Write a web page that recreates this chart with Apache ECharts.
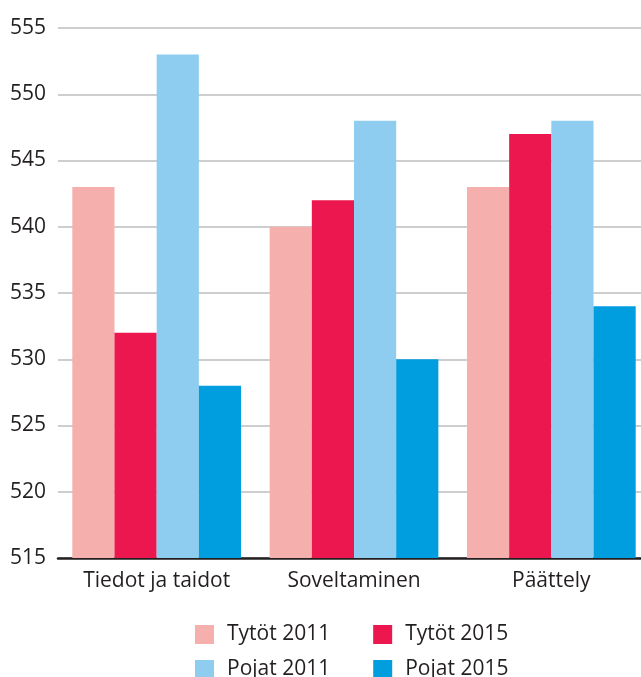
<!DOCTYPE html>
<html>
<head>
<meta charset="utf-8">
<script src="https://cdn.jsdelivr.net/npm/echarts@6/dist/echarts.min.js"></script>
<style>
  html, body { margin: 0; padding: 0; background: #fff; }
  #chart { width: 641px; height: 677px; }
</style>
</head>
<body>
<div id="chart"></div>
<script>
// data
const categories = ["Tiedot ja taidot", "Soveltaminen", "Päättely"]
const tytot2011 = [543, 540, 543]
const tytot2015 = [532, 542, 547]
const pojat2011 = [553, 548, 548]
const pojat2015 = [528, 530, 534]
const yMin = 515
const yMax = 555
const yStep = 5

const font = "'Open Sans', 'Noto Sans', sans-serif"
const textColor = "#231f20"

const chart = echarts.init(document.getElementById("chart"))

const makeBar = (name, data, color) => ({
  name: name,
  type: "bar",
  data: data,
  barGap: "0%",
  barCategoryGap: "14.5%",
  itemStyle: { color: color },
  emphasis: { disabled: true }
})

// one legend per row, the gap puts the second column under x ~374
const makeLegend = (names, top) => ({
  orient: "horizontal",
  left: 195,
  top: top,
  padding: 0,
  itemWidth: 19,
  itemHeight: 19,
  itemGap: 43,
  icon: "rect",
  data: names,
  textStyle: {
    fontSize: 21,
    color: textColor,
    fontFamily: font,
    padding: [0, 0, 0, 8]
  }
})

chart.setOption({
  animation: false,
  textStyle: { fontFamily: font },
  grid: {
    left: 58,
    right: -9,
    top: 28,
    bottom: 119,
    containLabel: false,
    outerBoundsMode: "none"
  },
  legend: [
    makeLegend(["Tytöt 2011", "Tytöt 2015"], 624),
    makeLegend(["Pojat 2011", "Pojat 2015"], 659)
  ],
  xAxis: {
    type: "category",
    data: categories,
    axisTick: { show: false },
    axisLine: { lineStyle: { color: textColor, width: 2.5 } },
    axisLabel: { color: textColor, fontSize: 21, margin: 13, fontFamily: font }
  },
  yAxis: {
    type: "value",
    min: yMin,
    max: yMax,
    interval: yStep,
    axisLine: { show: false },
    axisTick: { show: false },
    axisLabel: { color: textColor, fontSize: 21, margin: 12, fontFamily: font },
    splitLine: { lineStyle: { color: "#bcbec0", width: 1.5 } }
  },
  series: [
    makeBar("Tytöt 2011", tytot2011, "#f5b0ad"),
    makeBar("Tytöt 2015", tytot2015, "#ec174f"),
    makeBar("Pojat 2011", pojat2011, "#8ecdef"),
    makeBar("Pojat 2015", pojat2015, "#009ddf")
  ]
})
</script>
</body>
</html>
